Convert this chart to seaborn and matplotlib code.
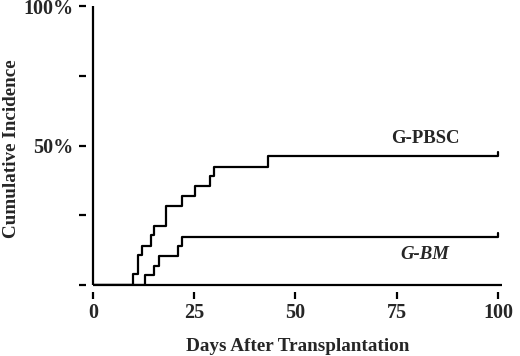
import numpy as np
import pandas as pd
import seaborn as sns
import matplotlib
matplotlib.use('Agg')
import matplotlib.pyplot as plt

# step curves (day, cumulative incidence %)
pbsc_days = [0, 9.9, 11.1, 12.1, 14.2, 15.0, 18.1, 22.0, 25.1, 29.0, 30.0, 43.1, 100, 100]
pbsc_inc = [0, 3.8, 10.7, 14.1, 17.9, 21.3, 28.3, 31.9, 35.5, 39.1, 42.4, 46.2, 46.2, 47.5]
bm_days = [0, 12.9, 15.0, 16.2, 21.1, 21.9, 100, 100]
bm_inc = [0, 3.6, 6.9, 10.5, 14.1, 17.3, 17.3, 18.6]

x_ticks = [0, 25, 50, 75, 100]
y_ticks = [0, 25, 50, 75, 100]
y_ticklabels = ['', '', '50%', '', '100%']

df = pd.concat([
    pd.DataFrame({'day': pbsc_days, 'inc': pbsc_inc, 'group': 'G-PBSC'}),
    pd.DataFrame({'day': bm_days, 'inc': bm_inc, 'group': 'G-BM'}),
], ignore_index=True)

sns.set_style('white')
plt.rcParams['font.family'] = ['Liberation Serif', 'DejaVu Serif']
plt.rcParams['font.weight'] = 'bold'

fig = plt.figure(figsize=(5.2, 3.56), dpi=100)
ax = fig.add_axes([93 / 520, 71 / 356, 409 / 520, 279 / 356])

sns.lineplot(data=df, x='day', y='inc', units='group', estimator=None,
             sort=False, color='black', lw=1.6, drawstyle='steps-post',
             ax=ax, legend=False)

ax.set_xlim(0, 101)
ax.set_ylim(0, 100)

# detached ticks: offset spines are hidden, axis lines drawn on data
sns.despine(ax=ax, offset={'left': 5, 'bottom': 5})
ax.spines['left'].set_visible(False)
ax.spines['bottom'].set_visible(False)
ax.plot([0, 0], [0, 100], color='black', lw=1.6, clip_on=False,
        solid_capstyle='butt')
ax.plot([0, 101], [0, 0], color='black', lw=1.6, clip_on=False,
        solid_capstyle='butt')

ax.set_xticks(x_ticks)
ax.set_xticklabels([str(t) for t in x_ticks])
ax.set_yticks(y_ticks)
ax.set_yticklabels(y_ticklabels)
ax.tick_params(axis='both', which='major', direction='out', length=5,
               width=1.6, color='black', labelsize=14.5,
               bottom=True, left=True)
ax.tick_params(axis='x', pad=3)
ax.tick_params(axis='y', pad=4)
for lab in ax.get_xticklabels() + ax.get_yticklabels():
    lab.set_fontweight('bold')

ax.set_xlabel('Days After Transplantation', fontsize=13.8, fontweight='bold')
ax.set_ylabel('Cumulative Incidence', fontsize=13.8, fontweight='bold')
ax.xaxis.set_label_coords(0.5, -53 / 279)
ax.yaxis.set_label_coords(-73 / 409, 0.49)

ax.text(82, 52.5, 'G-PBSC', ha='center', va='center', fontsize=13.5,
        fontweight='bold')
ax.text(82, 10.8, 'G-BM', ha='center', va='center', fontsize=13.5,
        fontweight='bold', style='italic')

fig.savefig('out.png', dpi=100)
